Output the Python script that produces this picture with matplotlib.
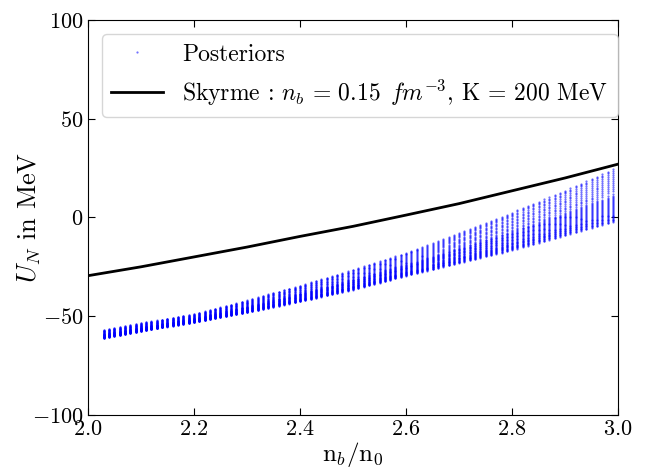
import numpy as np
import matplotlib
matplotlib.use('Agg')
import matplotlib.pyplot as plt

plt.rcParams['font.family'] = 'serif'
plt.rcParams['font.serif'] = ['cmr10']
plt.rcParams['mathtext.fontset'] = 'cm'
plt.rcParams['axes.formatter.use_mathtext'] = True

# Skyrme curve
skyrme_x = [2.0, 2.1, 2.2, 2.3, 2.4, 2.5, 2.6, 2.7, 2.8, 2.9, 3.0]
skyrme_u = [-29.5, -25.0, -20.0, -15.0, -9.6, -4.5, 1.2, 7.0, 13.5, 20.0, 27.0]

# posterior band: lower / upper edge of the dot cloud
band_x = [2.03, 2.1, 2.2, 2.3, 2.4, 2.5, 2.6, 2.7, 2.8, 2.9, 3.0]
band_lo = [-61.0, -57.5, -53.0, -48.0, -42.5, -36.5, -29.5, -23.0, -16.5, -9.0, -1.5]
band_hi = [-57.0, -53.5, -49.0, -42.0, -34.5, -26.5, -18.0, -8.0, 2.5, 13.5, 25.5]
# where each posterior curve sits inside the band (0 = bottom, 1 = top)
curve_pos = [0.0, 0.015, 0.03, 0.045, 0.06, 0.075, 0.09, 0.105, 0.12, 0.135,
             0.15, 0.165, 0.18, 0.2, 0.22, 0.24, 0.26, 0.28, 0.3, 0.32, 0.34,
             0.36, 0.38, 0.4, 0.42, 0.44, 0.46, 0.48, 0.5, 0.54, 0.58, 0.62,
             0.66, 0.7, 0.74, 0.78, 0.82, 0.86, 0.9, 0.94, 0.97, 1.0]
# density grid the posteriors were evaluated on
grid_x = np.arange(2.03, 2.995, 0.01)

lo = np.interp(grid_x, band_x, band_lo)
hi = np.interp(grid_x, band_x, band_hi)

fig = plt.figure(figsize=(6.46, 4.74), dpi=100)
ax = fig.add_axes([0.136, 0.1245, 0.821, 0.8335])

for i, f in enumerate(curve_pos):
    ax.plot(grid_x, lo + f * (hi - lo), '.', color='blue', ms=3.2, alpha=0.55,
            mec='none', label='Posteriors' if i == 0 else None)

ax.plot(skyrme_x, skyrme_u, color='black', lw=2,
        label=r'Skyrme : $n_b\,=\,0.15\ \,fm^{-3}$, K = 200 MeV')

ax.set_xlim(2.0, 3.0)
ax.set_ylim(-100, 100)
ax.set_xticks([2.0, 2.2, 2.4, 2.6, 2.8, 3.0])
ax.set_yticks([-100, -50, 0, 50, 100])
ax.tick_params(direction='in', top=True, right=True, labelsize=16, length=5, pad=3)
ax.set_xlabel(r'n$_b$/n$_0$', fontsize=18, labelpad=1)
ax.set_ylabel(r'$U_N$ in MeV', fontsize=19)
ax.yaxis.set_label_coords(-0.085, 0.5)

ax.legend(loc='upper left', fontsize=17, handlelength=2.2, borderaxespad=0.6)

fig.savefig('out.png', dpi=100)
